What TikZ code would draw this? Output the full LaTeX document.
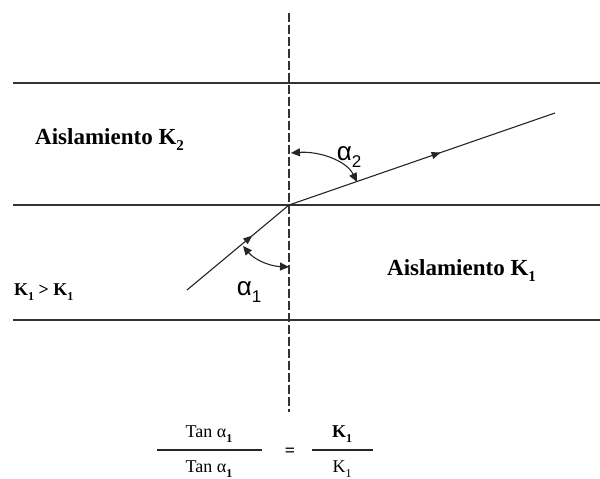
\documentclass[tikz,border=0pt]{standalone}
\usepackage{fontspec}
\setmainfont{Liberation Serif}
\newfontfamily\greekfont{Liberation Sans}
\usetikzlibrary{arrows.meta,decorations.markings}
\newcommand{\lowsub}[2]{\raisebox{-0.3em}{\fontsize{#1}{#1}\selectfont #2}}
\tikzset{
  layer/.style={line width=1.8pt,draw=black!80},
  axis/.style={line width=1.4pt,draw=black!80,dash pattern=on 9pt off 3pt},
  ray/.style={line width=1.1pt,draw=black!85},
  midarrow/.style={postaction={decorate,decoration={markings,mark=at position #1 with {\arrow{Triangle[length=9pt,width=7pt]}}}}},
  anglearc/.style={line width=1.1pt,draw=black!85,{Triangle[length=9pt,width=8pt]}-{Triangle[length=9pt,width=8pt]}},
  boldlabel/.style={font=\bfseries\fontsize{23}{23}\selectfont,inner sep=0pt},
  alphalabel/.style={font=\greekfont\fontsize{26}{26}\selectfont,inner sep=0pt},
  formula/.style={font=\fontsize{18}{18}\selectfont,inner sep=0pt},
  fracline/.style={line width=1.2pt,draw=black!85}
}
\begin{document}
\begin{tikzpicture}[x=1pt,y=-1pt]
\useasboundingbox (0,0) rectangle (600,479);
% layer boundaries
\coordinate (t1) at (13,83);  \coordinate (t2) at (600,83);
\coordinate (m1) at (13,205); \coordinate (m2) at (600,205);
\coordinate (b1) at (13,320); \coordinate (b2) at (600,320);
\draw[layer] (t1) -- (t2);
\draw[layer] (m1) -- (m2);
\draw[layer] (b1) -- (b2);
% normal
\coordinate (ntop) at (289,13);
\coordinate (nbot) at (289,412);
\draw[axis] (ntop) -- (nbot);
% rays
\coordinate (src) at (187,290);
\coordinate (O) at (289,205);
\coordinate (dst) at (555,113);
\draw[ray,midarrow=0.64] (src) -- (O);
\draw[ray,midarrow=0.57] (O) -- (dst);
% angle arcs
\coordinate (a2n) at (291,153);
\coordinate (a2r) at (357,182);
\draw[anglearc] (a2n) .. controls (318,151) and (346,160) .. (a2r);
\coordinate (a1r) at (243,246);
\coordinate (a1n) at (289,267);
\draw[anglearc] (a1r) .. controls (254,259) and (268,266) .. (a1n);
% labels
\node[alphalabel] (al2) at (349,157) {α\lowsub{17}{2}};
\node[alphalabel] (al1) at (249,292) {α\lowsub{17}{1}};
\node[boldlabel,anchor=base west] (k2) at (35,144) {Aislamiento K\lowsub{15}{2}};
\node[boldlabel,anchor=base west] (k1) at (387,275) {Aislamiento K\lowsub{15}{1}};
\node[font=\bfseries\fontsize{18}{18}\selectfont,inner sep=0pt,anchor=base west] (cond) at (14,295) {K\lowsub{12}{1} > K\lowsub{12}{1}};
% formula
\coordinate (fl1) at (157,450); \coordinate (fl2) at (262,450);
\coordinate (fr1) at (312,450); \coordinate (fr2) at (373,450);
\draw[fracline] (fl1) -- (fl2);
\draw[fracline] (fr1) -- (fr2);
\node[formula] (num1) at (209,434) {Tan α\lowsub{12}{\textbf{1}}};
\node[formula] (den1) at (209,469) {Tan α\lowsub{12}{\textbf{1}}};
\node[formula,font=\bfseries\fontsize{18}{18}\selectfont] (eq) at (290,452) {=};
\node[formula] (num2) at (342,434) {\textbf{K\lowsub{12}{1}}};
\node[formula] (den2) at (342,469) {K\lowsub{12}{1}};
\end{tikzpicture}
\end{document}
